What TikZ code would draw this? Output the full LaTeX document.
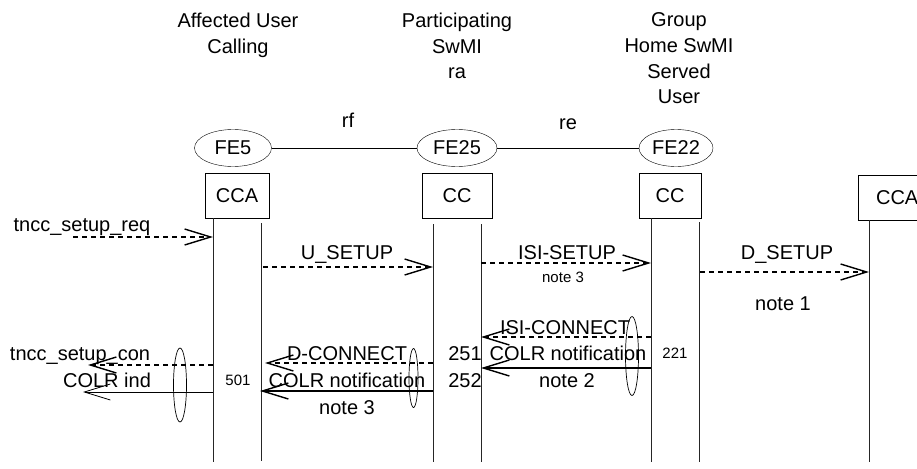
\documentclass[tikz,border=0pt]{standalone}
\usepackage{fontspec}
\setmainfont{Liberation Sans}
\usetikzlibrary{arrows.meta,shapes.geometric}
\newcommand{\nm}{\fontsize{20}{25.7}\selectfont}
\newcommand{\sm}{\fontsize{15}{18}\selectfont}
\tikzset{
  fe/.style={draw,ellipse,minimum height=37pt,inner sep=0pt,font=\nm},
  fbox/.style={draw,minimum height=45pt,inner sep=0pt,font=\nm},
  life/.style={draw=black!85,line width=0.9pt},
  lbl/.style={font=\nm,anchor=base,inner sep=0pt},
  slbl/.style={font=\sm,anchor=base,inner sep=0pt},
  grp/.style={draw,ellipse,line width=0.7pt,inner sep=0pt},
  barb/.tip={Straight Barb[length=26pt,width=16pt,line width=1.4pt]},
  sig/.style={line width=2.1pt,dash pattern=on 5pt off 4pt,-barb},
  colr/.style={line width=2pt,-barb},
  ind/.style={line width=0.8pt,-{Straight Barb[length=26pt,width=16pt]}}
}
\begin{document}
\begin{tikzpicture}[x=1pt,y=-1pt]
  \useasboundingbox (0,0) rectangle (917,468);
  % headings
  \node[font=\nm,align=center] (h5) at (238,35.5) {Affected User\\Calling};
  \node[font=\nm,align=center] (h25) at (457,46) {Participating\\SwMI\\ra};
  \node[font=\nm,align=center] (h22) at (679,58.5) {Group\\Home SwMI\\Served\\User};
  % functional entities
  \node[fe,minimum width=77pt] (fe5) at (233,148) {FE5};
  \node[fe,minimum width=80pt] (fe25) at (457,148) {FE25};
  \node[fe,minimum width=74pt] (fe22) at (676,148) {FE22};
  \draw (fe5) -- (fe25);
  \draw (fe25) -- (fe22);
  \node[lbl] (rf) at (348,128) {rf};
  \node[lbl] (re) at (568,129) {re};
  % boxes
  \node[fbox,minimum width=64pt] (cca5) at (237,195.5) {CCA};
  \node[fbox,minimum width=70pt] (cc25) at (457,195.5) {CC};
  \node[fbox,minimum width=62pt] (cc22) at (670,195.5) {CC};
  \node[fbox,minimum width=78pt,anchor=west] (ccad) at (858,197.5) {CCA};
  % lifelines
  \coordinate (a1) at (213,218); \coordinate (b1) at (213,462);
  \coordinate (a2) at (261,223); \coordinate (b2) at (261,461);
  \coordinate (a3) at (433,224); \coordinate (b3) at (433,462);
  \coordinate (a4) at (481,224); \coordinate (b4) at (481,462);
  \coordinate (a5) at (651,218); \coordinate (b5) at (651,462);
  \coordinate (a6) at (699,222); \coordinate (b6) at (699,462);
  \coordinate (a7) at (869,220); \coordinate (b7) at (869,462);
  \foreach \i in {1,...,7}
    \draw[life] (a\i) -- (b\i);
  % set up
  \coordinate (req0) at (73,237);   \coordinate (req1) at (213,237);
  \coordinate (us0) at (263,267);   \coordinate (us1) at (433,267);
  \coordinate (isi0) at (481,263);  \coordinate (isi1) at (651,263);
  \coordinate (ds0) at (700,272);   \coordinate (ds1) at (869,272);
  \draw[sig] (req0) -- (req1);
  \draw[sig] (us0) -- (us1);
  \draw[sig] (isi0) -- (isi1);
  \draw[sig] (ds0) -- (ds1);
  \node[lbl] (treq) at (82,231) {tncc\_setup\_req};
  \node[lbl] (tus) at (347,259) {U\_SETUP};
  \node[lbl] (tisi) at (567,259) {ISI-SETUP};
  \node[slbl] (n3a) at (563,282) {note 3};
  \node[lbl] (tds) at (787,259) {D\_SETUP};
  \node[lbl] (n1) at (783,310) {note 1};
  % connect
  \coordinate (ic0) at (651,337);   \coordinate (ic1) at (481,337);
  \coordinate (cn0) at (651,368);   \coordinate (cn1) at (481,368);
  \coordinate (dc0) at (433,363);   \coordinate (dc1) at (265,363);
  \coordinate (cm0) at (433,391);   \coordinate (cm1) at (260,391);
  \coordinate (con0) at (213,365);  \coordinate (con1) at (88,365);
  \coordinate (ci0) at (213,392);   \coordinate (ci1) at (83,392);
  \draw[sig] (ic0) -- (ic1);
  \draw[colr] (cn0) -- (cn1);
  \draw[sig] (dc0) -- (dc1);
  \draw[colr] (cm0) -- (cm1);
  \draw[sig] (con0) -- (con1);
  \draw[ind] (ci0) -- (ci1);
  \node[lbl] (tic) at (565,334) {ISI-CONNECT};
  \node[lbl] (tcn) at (568,360) {COLR notification};
  \node[lbl] (n2) at (567,387) {note 2};
  \node[slbl] (t221) at (675,358) {221};
  \node[lbl] (t251) at (465,360) {251};
  \node[lbl] (t252) at (465,387) {252};
  \node[lbl] (tdc) at (347,360) {D-CONNECT};
  \node[lbl] (tcm) at (347,387) {COLR notification};
  \node[lbl] (n3b) at (347,414) {note 3};
  \node[slbl] (t501) at (238,385) {501};
  \node[lbl] (tcon) at (80,360) {tncc\_setup\_con};
  \node[lbl] (tci) at (107,387) {COLR ind};
  % grouping
  \node[grp,minimum width=13pt,minimum height=74pt] (g1) at (180,385) {};
  \node[grp,minimum width=9pt,minimum height=59pt] (g2) at (413.5,378) {};
  \node[grp,minimum width=13pt,minimum height=79pt] (g3) at (632,356) {};
\end{tikzpicture}
\end{document}
